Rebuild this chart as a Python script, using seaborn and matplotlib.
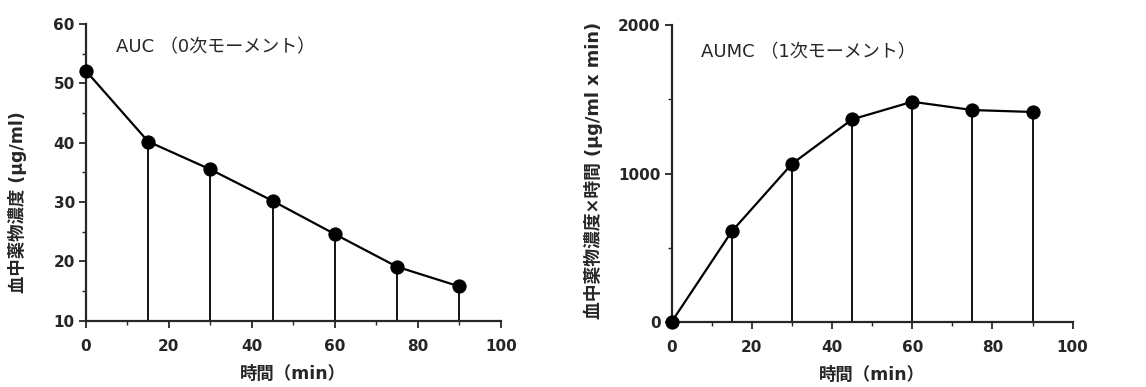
"""Plasma concentration curves: AUC and AUMC panels."""

import matplotlib

matplotlib.use("Agg")

import matplotlib.pyplot as plt
from matplotlib.ticker import MultipleLocator
import pandas as pd
import seaborn as sns

time_min = [0, 15, 30, 45, 60, 75, 90]
conc = [52.1, 40.2, 35.5, 30.2, 24.6, 19.1, 15.8]
conc_x_time = [0, 610, 1065, 1365, 1484, 1428, 1415]

sns.set_style("ticks")
plt.rcParams["font.family"] = ["DejaVu Sans", "Noto Sans CJK JP"]

fig = plt.figure(figsize=(11.46, 3.87), dpi=100)
ax1 = fig.add_axes([0.075, 0.171, 0.362, 0.767])
ax2 = fig.add_axes([0.586, 0.168, 0.350, 0.767])


def _panel(ax, df, ycol, ymin, ymax, ymajor, yminor, note, note_y):
    # drop lines from each point to the base of the plot (not at t=0)
    stems = df[df["t"] > 0]
    ax.vlines(stems["t"], ymin, stems[ycol], color="black", lw=1.3)
    sns.lineplot(data=df, x="t", y=ycol, ax=ax, color="black", lw=1.6,
                 marker="o", markersize=9.5, markeredgecolor="black",
                 clip_on=False, zorder=5)
    ax.set_xlim(0, 100)
    ax.set_ylim(ymin, ymax)
    ax.xaxis.set_major_locator(MultipleLocator(20))
    ax.xaxis.set_minor_locator(MultipleLocator(10))
    ax.yaxis.set_major_locator(MultipleLocator(ymajor))
    ax.yaxis.set_minor_locator(MultipleLocator(yminor))
    ax.tick_params(which="major", length=5, width=1.3, labelsize=11, direction="out")
    ax.tick_params(which="minor", length=3, width=1.0, direction="out")
    ax.tick_params(axis="x", which="major", pad=8)
    ax.tick_params(axis="y", which="major", pad=3)
    for lab in ax.get_xticklabels() + ax.get_yticklabels():
        lab.set_fontweight("bold")
    for side in ("left", "bottom"):
        ax.spines[side].set_linewidth(1.6)
    sns.despine(ax=ax)
    ax.set_xlabel("時間（min）", fontsize=12.5, fontweight="bold", labelpad=8)
    ax.text(7.3, note_y, note, fontsize=13, va="center", ha="left")


df = pd.DataFrame({"t": time_min, "c": conc, "ct": conc_x_time})

_panel(ax1, df, "c", 10, 60, 10, 5, "AUC （0次モーメント）", 56.0)
_panel(ax2, df, "ct", 0, 2000, 1000, 500, "AUMC （1次モーメント）", 1818)

ax1.set_ylabel("血中薬物濃度 (μg/ml)", fontsize=12.5, fontweight="bold")
ax1.yaxis.set_label_coords(-0.142, 0.40)
ax2.set_ylabel("血中薬物濃度×時間 (μg/ml x min)", fontsize=12.8,
               fontweight="bold", loc="bottom")
ax2.yaxis.set_label_coords(-0.17, 0.01)

fig.savefig("out.png", dpi=100)
